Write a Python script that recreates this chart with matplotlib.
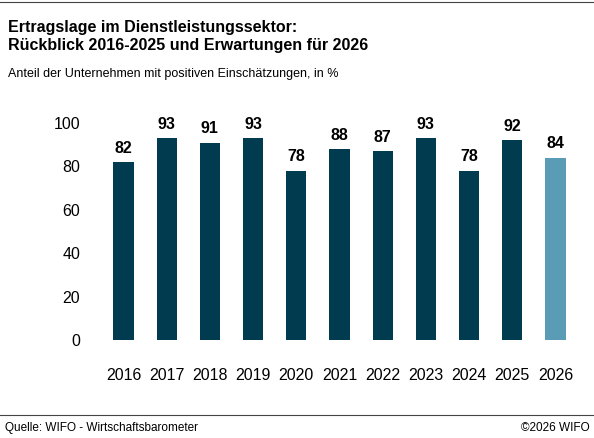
import matplotlib
matplotlib.use("Agg")
import matplotlib.pyplot as plt

years = ["2016","2017","2018","2019","2020","2021","2022","2023","2024","2025","2026"]
values = [82, 93, 91, 93, 78, 88, 87, 93, 78, 92, 84]
colors = ["#003b50"]*10 + ["#5a9bb5"]

plt.rcParams['font.family'] = ['Liberation Sans', 'DejaVu Sans']
fig = plt.figure(figsize=(5.94, 4.38), dpi=100)
ax = fig.add_axes([0.168, 0.224, 0.807, 0.495])
x = range(len(years))
ax.bar(x, values, width=0.47, color=colors)
for xi, v in zip(x, values):
    ax.text(xi, v + 3, str(v), ha='center', va='bottom', fontsize=11.5, fontweight='bold', clip_on=False)
ax.set_xlim(-0.55, 10.55)
ax.set_ylim(0, 100)
ax.set_yticks([0, 20, 40, 60, 80, 100])
ax.set_xticks(list(x))
ax.set_xticklabels(years)
ax.tick_params(axis='both', length=0, labelsize=11.5)
ax.tick_params(axis='x', pad=20)
ax.tick_params(axis='y', pad=14)
for s in ax.spines.values():
    s.set_visible(False)

fig.text(0.013, 0.955, "Ertragslage im Dienstleistungssektor:\nRückblick 2016-2025 und Erwartungen für 2026",
         fontsize=11.5, fontweight='bold', va='top', linespacing=1.3)
fig.text(0.013, 0.845, "Anteil der Unternehmen mit positiven Einschätzungen, in %", fontsize=9, va='top')
fig.add_artist(plt.Line2D([0, 1], [0.995, 0.995], color='#444444', lw=0.8))
fig.add_artist(plt.Line2D([0, 1], [0.052, 0.052], color='#444444', lw=0.8))
fig.text(0.008, 0.022, "Quelle: WIFO - Wirtschaftsbarometer", fontsize=8.5, va='center')
fig.text(0.992, 0.022, "©2026 WIFO", fontsize=8.5, va='center', ha='right')
fig.savefig("out.png", dpi=100)
